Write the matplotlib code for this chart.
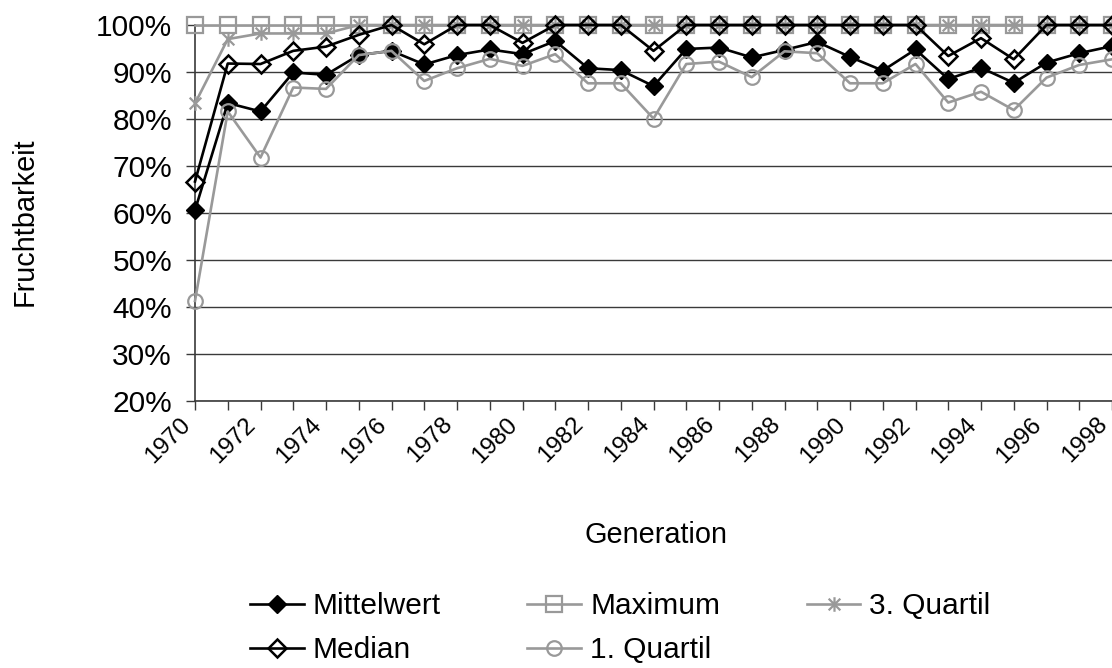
import matplotlib
matplotlib.use("Agg")
import matplotlib.pyplot as plt
from matplotlib.path import Path
from matplotlib.ticker import FuncFormatter, FixedLocator
from matplotlib.transforms import ScaledTranslation

plt.rcParams['font.family'] = ['Liberation Sans', 'DejaVu Sans']

years = list(range(1970, 1999))

mittelwert = [60.6, 83.4, 81.6, 89.9, 89.4, 93.6, 94.5, 91.6, 93.6, 94.8,
              93.8, 96.6, 90.8, 90.4, 87.0, 94.9, 95.2, 93.1, 94.7, 96.4,
              93.2, 90.3, 94.8, 88.5, 90.9, 87.7, 92.0, 94.0, 95.5]
maximum = [100.0] * 29
quartil3 = [83.3, 97.0, 98.2, 98.2, 98.2, 100.0, 100.0, 100.0, 100.0, 100.0,
            100.0, 100.0, 100.0, 100.0, 100.0, 100.0, 100.0, 100.0, 100.0, 100.0,
            100.0, 100.0, 100.0, 100.0, 100.0, 100.0, 100.0, 100.0, 100.0]
median = [66.7, 91.8, 91.7, 94.5, 95.4, 97.9, 100.0, 95.9, 100.0, 100.0,
          96.2, 100.0, 100.0, 100.0, 94.5, 100.0, 100.0, 100.0, 100.0, 100.0,
          100.0, 100.0, 100.0, 93.4, 97.2, 92.7, 100.0, 100.0, 100.0]
quartil1 = [41.3, 81.6, 71.8, 86.7, 86.4, 93.6, 94.5, 88.1, 90.8, 92.8,
            91.3, 93.8, 87.6, 87.6, 80.1, 91.7, 92.2, 88.9, 94.4, 94.0,
            87.6, 87.6, 91.7, 83.5, 85.8, 81.9, 88.8, 91.5, 92.7]

y_ticks = [20, 30, 40, 50, 60, 70, 80, 90, 100]

BLACK = '#000000'
GRAY = '#999999'
GRID = '#3a3a3a'

# six-armed star: vertical stroke plus two diagonals
star = Path([(0, -1), (0, 1), (-0.8, -0.8), (0.8, 0.8), (-0.8, 0.8), (0.8, -0.8)],
            [Path.MOVETO, Path.LINETO, Path.MOVETO, Path.LINETO, Path.MOVETO, Path.LINETO])

fig = plt.figure(figsize=(11.12, 6.68), dpi=100)
ax = fig.add_axes([195 / 1112, 1 - 401 / 668, 1 - 195 / 1112, (401 - 25) / 668])

lw = 1.9
h_mw, = ax.plot(years, mittelwert, color=BLACK, lw=lw, marker='D', ms=9.5,
                mfc=BLACK, mec=BLACK, clip_on=False, zorder=3, label='Mittelwert')
h_max, = ax.plot(years, maximum, color=GRAY, lw=lw, marker='s', ms=11,
                 mfc='none', mec=GRAY, mew=1.6, clip_on=False, zorder=4, label='Maximum')
h_q3, = ax.plot(years, quartil3, color=GRAY, lw=lw, marker=star, ms=10.5,
                mfc='none', mec=GRAY, mew=1.6, clip_on=False, zorder=5, label='3. Quartil')
h_med, = ax.plot(years, median, color=BLACK, lw=lw, marker='D', ms=9.5,
                 mfc='none', mec=BLACK, mew=1.8, clip_on=False, zorder=6, label='Median')
h_q1, = ax.plot(years, quartil1, color=GRAY, lw=lw, marker='o', ms=10.5,
                mfc='none', mec=GRAY, mew=1.6, clip_on=False, zorder=7, label='1. Quartil')

ax.set_xlim(1970, 1970 + (1112 - 195) / 32.75)
ax.set_ylim(20, 100)

ax.set_yticks(y_ticks)
ax.yaxis.set_major_formatter(FuncFormatter(lambda v, p: f"{v:.0f}%"))
ax.tick_params(axis='y', labelsize=21.5, length=6.5, width=1, color=GRID, pad=10)
ax.tick_params(axis='x', length=6.5, width=1, color=GRID, pad=8)

ax.xaxis.set_major_locator(FixedLocator(years))
ax.set_xticklabels([str(y) if y % 2 == 0 else '' for y in years],
                   rotation=45, ha='right', va='center', rotation_mode='anchor',
                   fontsize=17.5)
# nudge the slanted year labels a little to the left of their ticks
shift = ScaledTranslation(-8 / 100, 0, fig.dpi_scale_trans)
for tick in ax.xaxis.get_major_ticks():
    tick.label1.set_transform(tick.label1.get_transform() + shift)

ax.grid(axis='y', color=GRID, lw=1, zorder=0)
ax.set_axisbelow(True)
for side in ('top', 'right'):
    ax.spines[side].set_visible(False)
for side in ('left', 'bottom'):
    ax.spines[side].set_color(GRID)
    ax.spines[side].set_linewidth(1.2)

fig.text(25 / 1112, 1 - 222 / 668, 'Fruchtbarkeit', rotation=90,
         ha='center', va='center', fontsize=20.8)
fig.text(656 / 1112, 1 - 535 / 668, 'Generation', ha='center', va='center',
         fontsize=20.8)

handles = [h_mw, h_med, h_max, h_q1, h_q3]
fig.legend(handles=handles, labels=[h.get_label() for h in handles],
           ncol=3, loc='upper left', bbox_to_anchor=(250 / 1112, 1 - 592 / 668),
           frameon=False, fontsize=21.5, handlelength=1.8, handletextpad=0.3,
           columnspacing=2.9, labelspacing=0.55, borderpad=0, borderaxespad=0)

fig.savefig('out.png', dpi=100)
